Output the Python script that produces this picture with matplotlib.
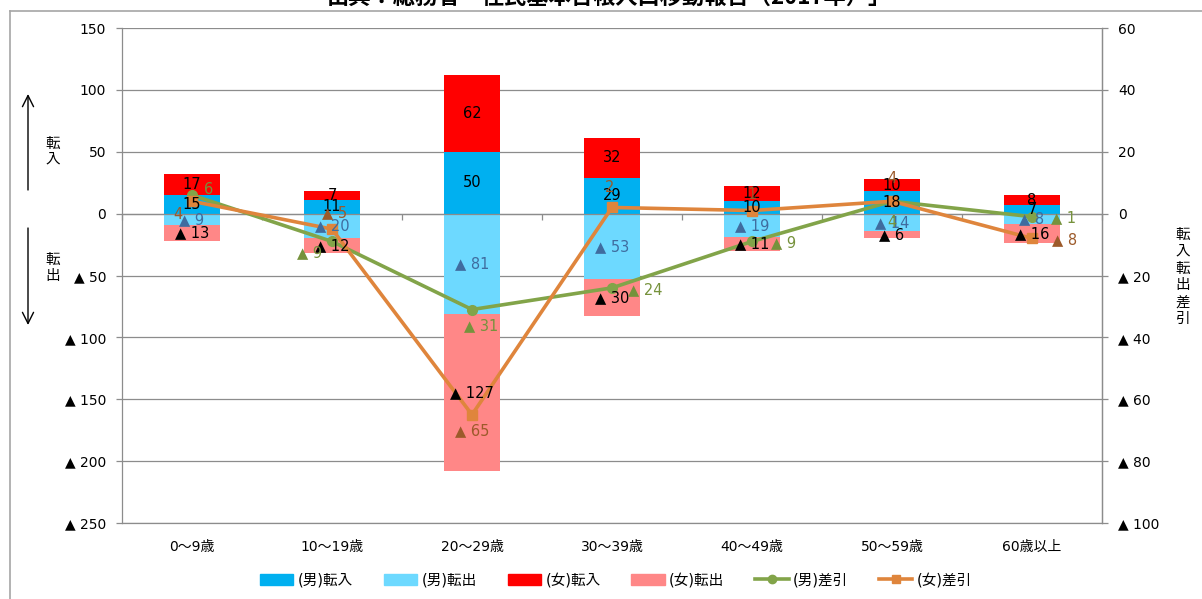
import matplotlib
matplotlib.use('Agg')
import matplotlib.pyplot as plt
from matplotlib.lines import Line2D
from matplotlib.patches import Patch
import numpy as np

plt.rcParams['font.family'] = ['DejaVu Sans', 'Noto Sans CJK JP']

# ---------------- data ----------------
categories = ['0～9歳', '10～19歳', '20～29歳', '30～39歳', '40～49歳', '50～59歳', '60歳以上']
male_in = [15, 11, 50, 29, 10, 18, 7]
male_out = [9, 20, 81, 53, 19, 14, 8]
female_in = [17, 7, 62, 32, 12, 10, 8]
female_out = [13, 12, 127, 30, 11, 6, 16]
male_net = [6, -9, -31, -24, -9, 4, -1]
female_net = [4, -5, -65, 2, 1, 4, -8]
left_ticks = [-250, -200, -150, -100, -50, 0, 50, 100, 150]
right_ticks = [-100, -80, -60, -40, -20, 0, 20, 40, 60]
legend_labels = ['(男)転入', '(男)転出', '(女)転入', '(女)転出', '(男)差引', '(女)差引']
title_text = '出典：総務省「住民基本台帳人口移動報告（2017年）」'

# label offsets (pixels: right, up) for the net-migration lines
male_off = [(17, 6), (-22, -11), (9, -16), (33, -2), (32, -1), (0, -21), (32, -1)]
female_off = [(-14, -13), (3, 16), (0, -16), (-2, 20), (0, 16), (0, 23), (33, -1)]

C_MIN = '#00B0F0'
C_MOUT = '#6DD9FF'
C_FIN = '#FF0000'
C_FOUT = '#FF8787'
C_MNET = '#82A449'
C_FNET = '#DF853C'
C_MNET_T = '#76923C'
C_FNET_T = '#9C5A2A'
C_MOUT_T = '#3F6C9F'
GRID = '#8C8C8C'
JP = ['Noto Sans CJK JP', 'DejaVu Sans']


def fmt(v):
    return f'▲ {abs(v)}' if v < 0 else f'{v}'


W, H = 1202, 599
fig = plt.figure(figsize=(W / 100, H / 100), dpi=100)
ax = fig.add_axes([122 / W, 1 - 523 / H, 980 / W, 495 / H])
ax2 = ax.twinx()

x = np.arange(len(categories))
mi = np.array(male_in)
mo = np.array(male_out)
fi = np.array(female_in)
fo = np.array(female_out)
bw = 0.4
ax.bar(x, mi, width=bw, color=C_MIN, zorder=2)
ax.bar(x, fi, width=bw, bottom=mi, color=C_FIN, zorder=2)
ax.bar(x, -mo, width=bw, color=C_MOUT, zorder=2)
ax.bar(x, -fo, width=bw, bottom=-mo, color=C_FOUT, zorder=2)

ax.set_xlim(-0.5, len(categories) - 0.5)
ax.set_ylim(-250, 150)
ax.set_yticks(left_ticks)
ax.set_yticklabels([fmt(v) for v in left_ticks])
ax.grid(axis='y', color=GRID, lw=0.9, zorder=0)
ax.set_axisbelow(True)
ax.tick_params(axis='y', length=4.5, color=GRID, width=0.9, pad=7, labelsize=10)

ax.set_xticks(x)
ax.set_xticklabels(categories)
ax.set_xticks(np.arange(len(categories) + 1) - 0.5, minor=True)
ax.tick_params(axis='x', which='major', length=0, pad=12, labelsize=10, top=False, bottom=True)
ax.tick_params(axis='x', which='minor', top=True, bottom=False, direction='in', length=4,
               color=GRID, width=0.9)
ax.spines['top'].set_position(('data', 0))
for s in ['top', 'left', 'right', 'bottom']:
    ax.spines[s].set_color(GRID)
    ax.spines[s].set_linewidth(0.9)

# right axis
ax2.set_ylim(-100, 60)
ax2.set_yticks(right_ticks)
ax2.set_yticklabels([fmt(v) for v in right_ticks])
ax2.tick_params(axis='y', length=4.5, color=GRID, width=0.9, pad=7, labelsize=10)
for s in ['top', 'left', 'bottom']:
    ax2.spines[s].set_visible(False)
ax2.spines['right'].set_color(GRID)
ax2.spines['right'].set_linewidth(0.9)

ax2.plot(x, male_net, color=C_MNET, lw=2.6, marker='o', ms=7, zorder=3)
ax2.plot(x, female_net, color=C_FNET, lw=2.6, marker='s', ms=7, zorder=3)

# bar labels (drawn on ax2 so they sit on top of the lines)
for i in range(len(x)):
    segs = [
        (mi[i] / 2, mi[i], 'black'),
        (mi[i] + fi[i] / 2, fi[i], 'black'),
        (-mo[i] / 2, -mo[i], C_MOUT_T),
        (-mo[i] - fo[i] / 2, -fo[i], 'black'),
    ]
    for yc, val, col in segs:
        ax2.annotate(fmt(int(val)), xy=(x[i], yc), xycoords=ax.transData,
                     ha='center', va='center', fontsize=10.5, color=col, zorder=5)

for i in range(len(x)):
    ax2.annotate(fmt(male_net[i]), xy=(x[i], male_net[i]), xytext=male_off[i],
                 textcoords='offset pixels', ha='center', va='center',
                 fontsize=10.5, color=C_MNET_T, zorder=5)
    ax2.annotate(fmt(female_net[i]), xy=(x[i], female_net[i]), xytext=female_off[i],
                 textcoords='offset pixels', ha='center', va='center',
                 fontsize=10.5, color=C_FNET_T, zorder=5)

# side annotations
fig.text(53 / W, 1 - 152 / H, '転\n入', ha='center', va='center', fontsize=10.5,
         linespacing=1.1, family=JP)
fig.text(53 / W, 1 - 268 / H, '転\n出', ha='center', va='center', fontsize=10.5,
         linespacing=1.1, family=JP)
fig.text(1183 / W, 1 - 277 / H, '\n'.join('転入転出差引'), ha='center', va='center',
         fontsize=10.5, linespacing=1.25, family=JP)
arrow = dict(arrowstyle='->,head_length=0.8,head_width=0.4', lw=1, color='black',
             shrinkA=0, shrinkB=0)
ax.annotate('', xy=(28 / W, 1 - 94 / H), xytext=(28 / W, 1 - 190 / H),
            xycoords='figure fraction', textcoords='figure fraction', arrowprops=arrow,
            annotation_clip=False)
ax.annotate('', xy=(28 / W, 1 - 325 / H), xytext=(28 / W, 1 - 228 / H),
            xycoords='figure fraction', textcoords='figure fraction', arrowprops=arrow,
            annotation_clip=False)

# legend
handles = [
    Patch(color=C_MIN), Patch(color=C_MOUT), Patch(color=C_FIN), Patch(color=C_FOUT),
    Line2D([0], [0], color=C_MNET, lw=2.6, marker='o', ms=6),
    Line2D([0], [0], color=C_FNET, lw=2.6, marker='s', ms=6),
]
fig.legend(handles, legend_labels, loc='center', bbox_to_anchor=(616 / W, 1 - 580 / H),
           ncol=6, frameon=False, fontsize=10.5, handlelength=2.3, handleheight=0.7,
           handletextpad=0.3, columnspacing=2.1)

# outer frame and (cut-off) title
fig.add_artist(Line2D([10 / W, 10 / W], [0, 1 - 11 / H], transform=fig.transFigure,
                      color='#A6A6A6', lw=1.2))
fig.add_artist(Line2D([10 / W, 1], [1 - 11 / H, 1 - 11 / H], transform=fig.transFigure,
                      color='#A6A6A6', lw=1.2))
fig.text(609 / W, 1 - 9 / H, title_text, ha='center', va='bottom', fontsize=16,
         fontweight='bold', family=JP)

fig.savefig('out.png', dpi=100)
